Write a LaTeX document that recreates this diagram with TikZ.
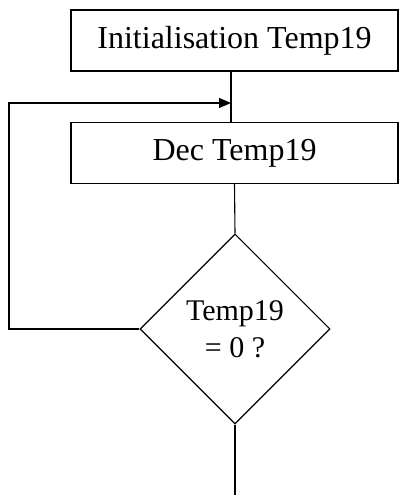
\documentclass[tikz,border=0pt]{standalone}
\usepackage{fontspec}
\setmainfont{Liberation Serif}
\usetikzlibrary{shapes.geometric,arrows.meta}

\begin{document}
\begin{tikzpicture}[x=1pt,y=1pt,line width=1.1pt,
	etape/.style={draw, rectangle, minimum width=327pt, minimum height=61pt, inner sep=0pt, font=\fontsize{32}{38}\selectfont},
	choix/.style={draw, diamond, aspect=1, minimum width=190pt, minimum height=190pt, inner sep=0pt, align=center, font=\fontsize{30}{37}\selectfont}]

	\useasboundingbox (0,0) rectangle (414,495);

	% Blocs
	\node[etape] (init) at (234.5,454.5) {Initialisation Temp19};
	\node[etape] (dec) at (234.5,342) {Dec Temp19};
	\node[choix] (test) at (235,166) {Temp19\\= 0 ?};

	% Liaisons
	\coordinate (retour) at (231,392);
	\coordinate (fin) at (235,0);
	\draw ([xshift=-3.5pt]init.south) -- ([xshift=-3.5pt]dec.north);
	\draw (dec.south) -- (test.north);
	\draw[-{Triangle[length=12pt,width=10pt]}] (test.west) -- (9,166) |- (retour);
	\draw (test.south) -- (fin);
\end{tikzpicture}
\end{document}
